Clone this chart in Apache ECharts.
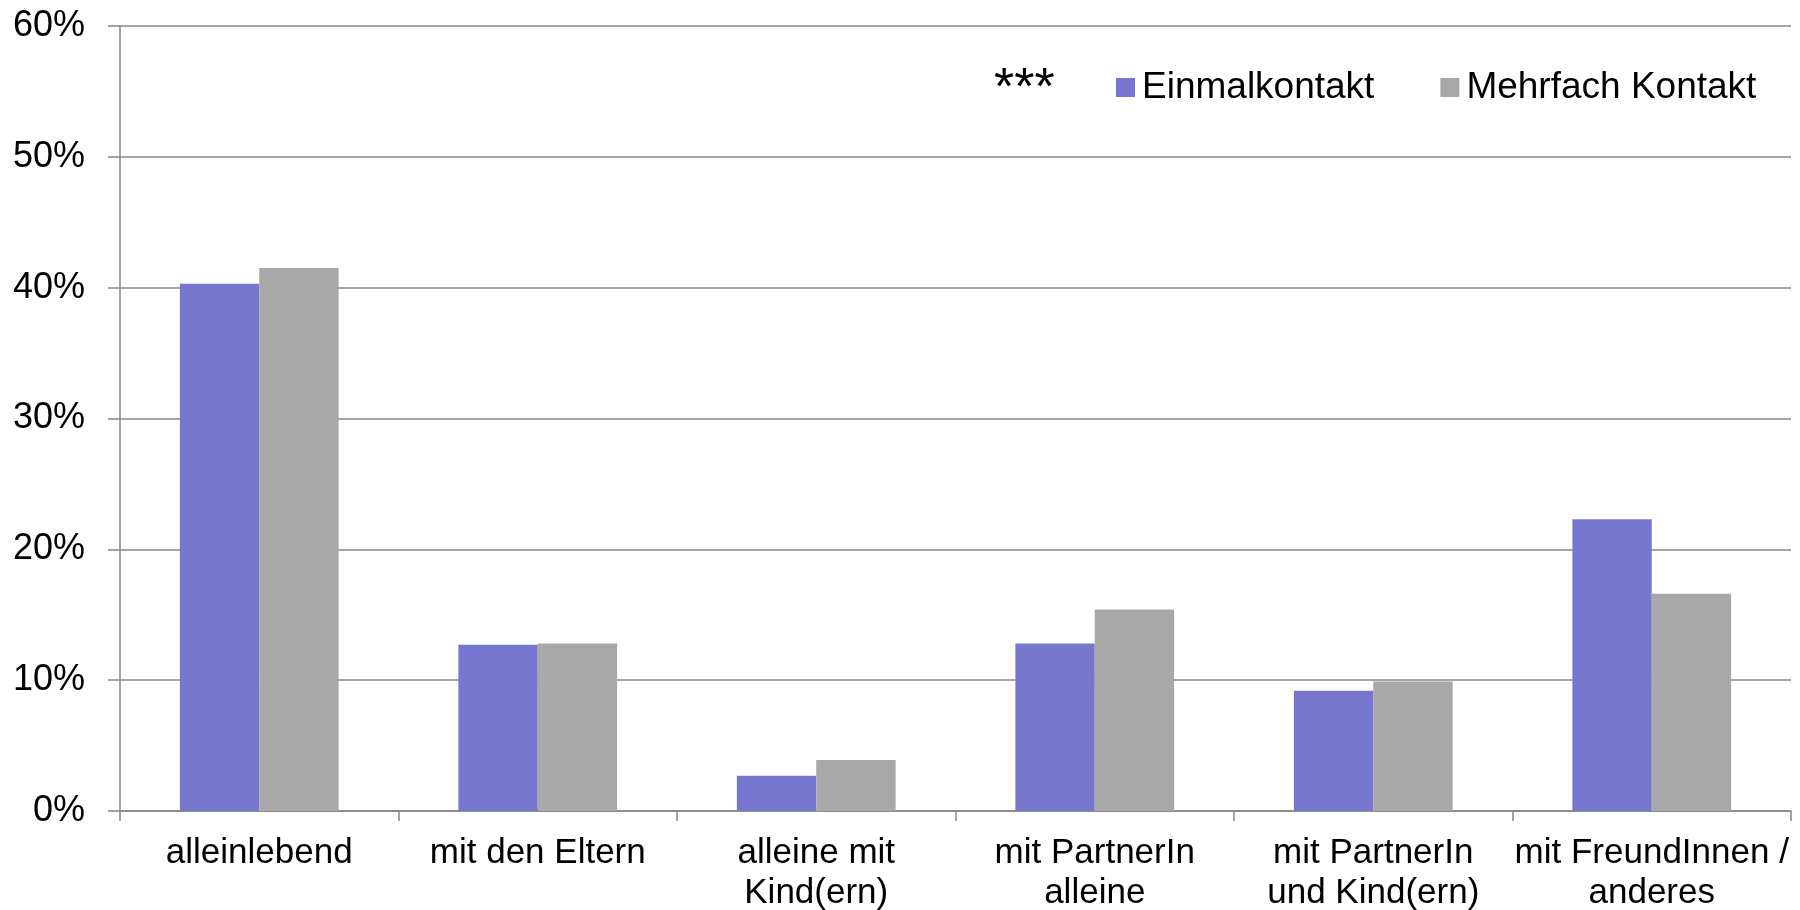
<!DOCTYPE html>
<html>
<head>
<meta charset="utf-8">
<script src="https://cdn.jsdelivr.net/npm/echarts@6/dist/echarts.min.js"></script>
<style>
  html, body { margin: 0; padding: 0; background: #ffffff; }
  #chart { width: 1800px; height: 910px; }
</style>
</head>
<body>
<div id="chart"></div>
<script>
const categories = [
  "alleinlebend",
  "mit den Eltern",
  "alleine mit\nKind(ern)",
  "mit PartnerIn\nalleine",
  "mit PartnerIn\nund Kind(ern)",
  "mit FreundInnen /\nanderes"
];
const einmal = [40.3, 12.7, 2.7, 12.8, 9.2, 22.3];
const mehrfach = [41.5, 12.8, 3.9, 15.4, 9.9, 16.6];
const seriesNames = ["Einmalkontakt", "Mehrfach Kontakt"];

const font = "Arial, 'Liberation Sans', sans-serif";
const axisGray = "#878787";

const myChart = echarts.init(document.getElementById("chart"));
const option = {
  animation: false,
  backgroundColor: "#ffffff",
  grid: { left: 120, right: 9, top: 26, bottom: 99, outerBoundsMode: "none" },
  graphic: [
    {
      type: "text",
      left: 994,
      top: 64,
      style: { text: "***", fontSize: 52, fontFamily: font, fill: "#000000" }
    }
  ],
  legend: {
    data: seriesNames,
    left: 1111,
    top: 64,
    itemWidth: 19,
    itemHeight: 19,
    itemGap: 66,
    icon: "rect",
    textStyle: {
      fontSize: 37,
      fontFamily: font,
      color: "#000000",
      padding: [0, 0, 0, 2]
    }
  },
  xAxis: {
    type: "category",
    data: categories,
    axisLine: { lineStyle: { color: axisGray, width: 1.5 } },
    axisTick: { show: true, length: 10, lineStyle: { color: axisGray, width: 1.5 } },
    axisLabel: {
      interval: 0,
      margin: 22,
      fontSize: 35,
      lineHeight: 40,
      fontFamily: font,
      color: "#000000"
    }
  },
  yAxis: {
    type: "value",
    min: 0,
    max: 60,
    interval: 10,
    axisLine: { show: true, lineStyle: { color: axisGray, width: 1.5 } },
    axisTick: { show: true, length: 12, lineStyle: { color: axisGray, width: 1.5 } },
    splitLine: { lineStyle: { color: axisGray, width: 1.5 } },
    axisLabel: {
      margin: 35,
      fontSize: 36,
      fontFamily: font,
      color: "#000000",
      formatter: "{value}%"
    }
  },
  series: [
    {
      name: seriesNames[0],
      type: "bar",
      data: einmal,
      barGap: "0%",
      barCategoryGap: "43%",
      itemStyle: { color: "#7776cf" }
    },
    {
      name: seriesNames[1],
      type: "bar",
      data: mehrfach,
      itemStyle: { color: "#a8a8a8" }
    }
  ]
};
myChart.setOption(option);
</script>
</body>
</html>
